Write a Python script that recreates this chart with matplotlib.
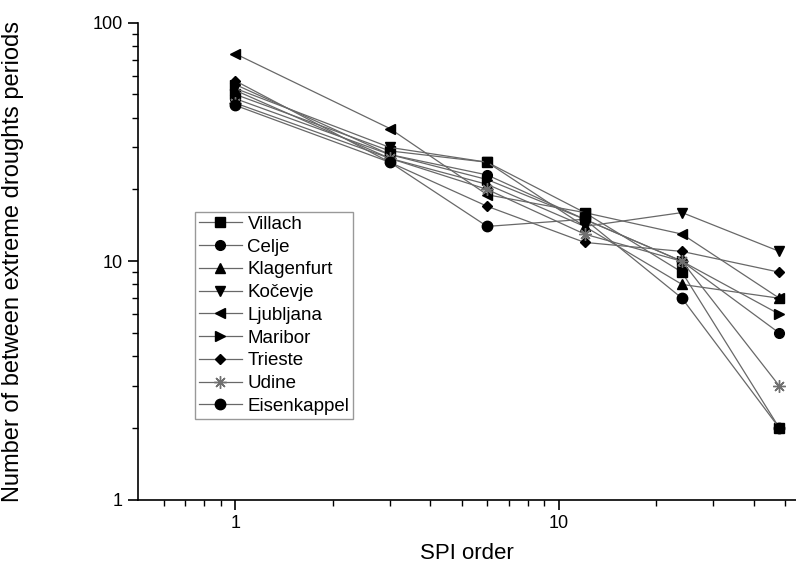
import matplotlib
matplotlib.use("Agg")
import matplotlib.pyplot as plt
from matplotlib.ticker import LogLocator, FixedLocator, NullFormatter, FixedFormatter

plt.rcParams['font.family'] = ['Liberation Sans', 'DejaVu Sans']

spi_order = [1, 3, 6, 12, 24, 48]

stations = ['Villach', 'Celje', 'Klagenfurt', 'Kočevje', 'Ljubljana',
            'Maribor', 'Trieste', 'Udine', 'Eisenkappel']

villach = [50, 29, 26, 16, 9, 2]
celje = [48, 28, 23, 15, 10, 5]
klagenfurt = [52, 27, 21, 14, 8, 7]
kocevje = [53, 30, 26, 14, 16, 11]
ljubljana = [74, 36, 19, 16, 13, 7]
maribor = [55, 28, 22, 15, 10, 6]
trieste = [57, 26, 17, 12, 11, 9]
udine = [46, 27, 20, 13, 10, 3]
eisenkappel = [45, 26, 14, 15, 7, 2]

series = [villach, celje, klagenfurt, kocevje, ljubljana,
          maribor, trieste, udine, eisenkappel]
markers = ['s', 'o', '^', 'v', '<', '>', 'D', (8, 2, 0), 'o']

fig = plt.figure(figsize=(7.96, 5.71), dpi=100)
ax = fig.add_axes([138 / 796, 1 - 500 / 571, 658 / 796, (500 - 22.6) / 571])

for name, vals, m in zip(stations, series, markers):
    if name == 'Udine':
        ax.plot(spi_order, vals, color='#686868', lw=0.9, marker=m,
                ms=9, mec='#707070', mew=1.0, label=name)
    else:
        ms = 5.5 if m == 'D' else 7
        if name == 'Eisenkappel':
            ms = 7.5
        ax.plot(spi_order, vals, color='#686868', lw=0.9, marker=m,
                ms=ms, mfc='black', mec='black', label=name)

ax.set_xscale('log')
ax.set_yscale('log')
ax.set_xlim(0.5, 54)
ax.set_ylim(1, 100)

ax.spines['top'].set_visible(False)
ax.spines['right'].set_visible(False)
ax.spines['left'].set_linewidth(1.2)
ax.spines['bottom'].set_linewidth(1.2)

ax.xaxis.set_major_locator(FixedLocator([1, 10]))
ax.xaxis.set_major_formatter(FixedFormatter(['1', '10']))
ax.xaxis.set_minor_locator(FixedLocator([0.6, 0.7, 0.8, 0.9, 2, 3, 4, 5, 6, 7, 8, 9, 20, 30, 40, 50]))
ax.xaxis.set_minor_formatter(NullFormatter())
ax.yaxis.set_major_locator(FixedLocator([1, 10, 100]))
ax.yaxis.set_major_formatter(FixedFormatter(['1', '10', '100']))
ax.yaxis.set_minor_locator(LogLocator(base=10, subs=range(2, 10)))
ax.yaxis.set_minor_formatter(NullFormatter())

ax.tick_params(which='major', direction='out', length=7, width=1.2, labelsize=13, pad=4)
ax.tick_params(which='minor', direction='out', length=4, width=1.0)

ax.set_xlabel('SPI order', fontsize=16, labelpad=8)
ax.set_ylabel('Number of between extreme droughts periods', fontsize=17)
ax.yaxis.set_label_coords((24 - 138) / 658, 0.5)

leg = ax.legend(loc='upper left', bbox_to_anchor=((195 - 138) / 658, 1 - (212 - 22.6) / 477.4),
                fontsize=13.5, frameon=True, fancybox=False, handlelength=2.3,
                labelspacing=0.3, borderpad=0.2, handletextpad=0.3, borderaxespad=0)
leg.get_frame().set_edgecolor('#808080')
leg.get_frame().set_linewidth(1.0)

fig.savefig('out.png', dpi=100)
